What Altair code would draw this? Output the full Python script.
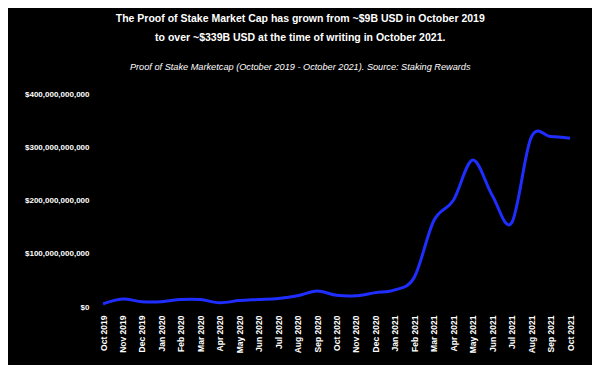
import altair as alt
import pandas as pd

months = ["Oct 2019", "Nov 2019", "Dec 2019", "Jan 2020", "Feb 2020", "Mar 2020",
          "Apr 2020", "May 2020", "Jun 2020", "Jul 2020", "Aug 2020", "Sep 2020",
          "Oct 2020", "Nov 2020", "Dec 2020", "Jan 2021", "Feb 2021", "Mar 2021",
          "Apr 2021", "May 2021", "Jun 2021", "Jul 2021", "Aug 2021", "Sep 2021",
          "Oct 2021"]
cap_billion = [6, 15, 10, 10, 14, 14,
               8, 12, 14, 16, 21, 30,
               22, 21, 27, 32, 56, 162,
               200, 276, 210, 158, 318, 320,
               317]
y_ticks = [0, 1e11, 2e11, 3e11, 4e11]

df = pd.DataFrame({"month": months, "cap": [v * 1e9 for v in cap_billion]})

FONT = "Liberation Sans"

chart = alt.Chart(df).mark_line(
    interpolate="cardinal", color="#1f2eff", strokeWidth=3
).encode(
    x=alt.X("month:O", sort=months, scale=alt.Scale(padding=0),
            axis=alt.Axis(title=None, labelAngle=-90, labelColor="white", labelFont=FONT,
                          labelFontWeight="bold", labelFontSize=8.5, ticks=False,
                          domain=False, labelPadding=8)),
    y=alt.Y("cap:Q", scale=alt.Scale(domain=[0, 4e11]),
            axis=alt.Axis(title=None, values=y_ticks, format="$,.0f", grid=False,
                          domain=False, ticks=False, labelPadding=14, labelColor="white",
                          labelFontWeight="bold", labelFontSize=8, labelFont=FONT)),
).properties(
    width=467, height=213, background="black",
    padding={"left": 95, "top": 86, "right": 22, "bottom": 58},
    autosize="none",
    title=alt.TitleParams(
        text=["The Proof of Stake Market Cap has grown from ~$9B USD in October 2019",
              "to over ~$339B USD at the time of writing in October 2021."],
        subtitle="Proof of Stake Marketcap (October 2019 - October 2021). Source: Staking Rewards",
        anchor="middle", frame="bounds", color="white", font=FONT, fontSize=10.5,
        fontWeight="bold", lineHeight=19, subtitleColor="white", subtitleFont=FONT,
        subtitleFontStyle="italic", subtitleFontSize=9.2, subtitlePadding=19, offset=18),
).configure_view(strokeWidth=0)

chart.save("out.html", embed_options={"renderer": "svg", "actions": False})
